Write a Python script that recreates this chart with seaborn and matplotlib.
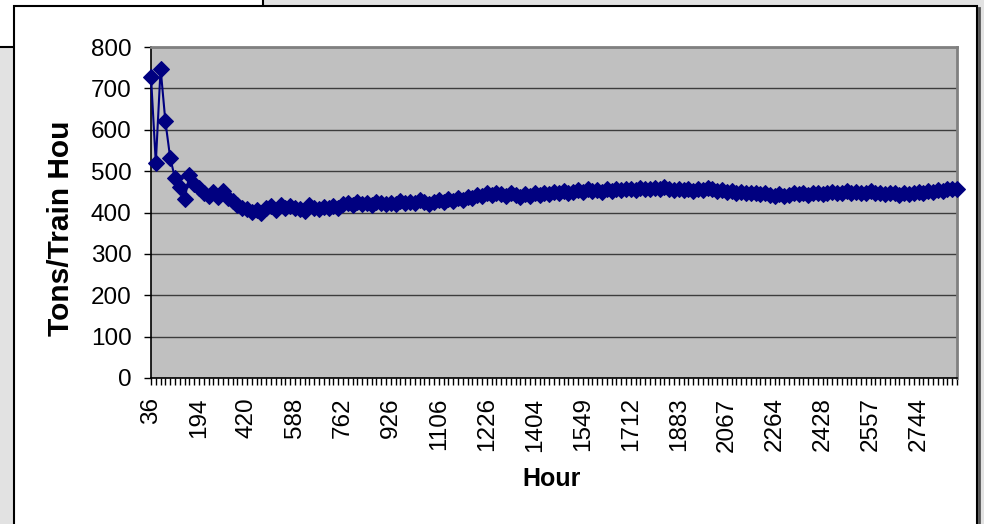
import matplotlib
matplotlib.use("Agg")
import matplotlib.pyplot as plt
from matplotlib.patches import Rectangle
from matplotlib.lines import Line2D
from matplotlib.transforms import Bbox
import numpy as np
import pandas as pd
import seaborn as sns

# tons per train hour, one value per sampled hour (category axis)
tons = [
    728, 520, 748, 620, 532, 483, 462, 432, 490, 468,
    460, 448, 440, 450, 438, 452, 436, 428, 418, 412,
    408, 402, 406, 400, 410, 415, 406, 418, 412, 416,
    410, 408, 404, 418, 412, 408, 414, 410, 416, 412,
    420, 424, 418, 426, 420, 424, 418, 426, 422, 420,
    424, 420, 428, 422, 426, 424, 430, 426, 420, 426,
    430, 426, 432, 428, 434, 430, 438, 434, 442, 440,
    446, 442, 448, 444, 440, 446, 442, 438, 444, 440,
    446, 442, 448, 444, 450, 446, 452, 448, 450, 454,
    450, 456, 452, 455, 450, 456, 452, 458, 454, 456,
    458, 454, 460, 456, 458, 460, 456, 462, 458, 454,
    458, 454, 456, 452, 458, 455, 460, 456, 452, 454,
    450, 452, 448, 450, 446, 448, 446, 444, 448, 442,
    440, 444, 440, 442, 446, 444, 448, 442, 446, 448,
    444, 446, 450, 446, 448, 452, 448, 450, 446, 448,
    452, 448, 446, 444, 448, 446, 442, 446, 444, 448,
    450, 448, 452, 450, 454, 452, 456, 458, 456,
]
# hour labels shown on every 10th category
hour_labels = ["36", "194", "420", "588", "762", "926", "1106", "1226", "1404",
               "1549", "1712", "1883", "2067", "2264", "2428", "2557", "2744"]

df = pd.DataFrame({"idx": np.arange(len(tons)), "tons": tons})

W, H = 984, 524
fig = plt.figure(figsize=(W / 100, H / 100), dpi=100, facecolor="#e2e2e2")

# window-ish frame behind the chart
fig.patches.append(Rectangle((0, 1 - 47 / H), 263 / W, 47 / H, transform=fig.transFigure,
                             facecolor="white", edgecolor="none", zorder=-3))
fig.lines.append(Line2D([0, 14 / W], [1 - 47 / H] * 2, transform=fig.transFigure,
                        color="black", lw=1.5, zorder=-2))
fig.lines.append(Line2D([263 / W] * 2, [1, 1 - 6 / H], transform=fig.transFigure,
                        color="black", lw=1.5, zorder=-2))
fig.patches.append(Rectangle((14 / W, -0.01), (977 - 14) / W, (524 - 6) / H + 0.01,
                             transform=fig.transFigure, facecolor="white",
                             edgecolor="black", lw=1.5, zorder=-1))
fig.lines.append(Line2D([979 / W] * 2, [0, 1 - 8 / H], transform=fig.transFigure,
                        color="#555555", lw=2, zorder=-1))

ax = fig.add_axes([151 / W, 1 - 378 / H, (957 - 151) / W, (378 - 47) / H])
ax.set_zorder(2)
ax.set_facecolor("#c0c0c0")

sns.lineplot(data=df, x="idx", y="tons", ax=ax, color="#000080", lw=1.5,
             marker="D", markersize=8, markeredgecolor="#000080", zorder=3, clip_on=False)

ax.set_xlim(0, len(tons) - 1)
ax.set_ylim(0, 800)
ax.set_yticks(range(0, 801, 100))
ax.yaxis.grid(True, color="#3c3c3c", lw=1)
ax.set_axisbelow(True)

ax.set_xticks(np.arange(0, 10 * len(hour_labels), 10))
ax.set_xticklabels(hour_labels, rotation=90, va="top")
ax.set_xticks(np.arange(len(tons)), minor=True)

for side in ["top", "right"]:
    ax.spines[side].set_color("#808080")
    ax.spines[side].set_linewidth(2)
for side in ["left", "bottom"]:
    ax.spines[side].set_color("black")
    ax.spines[side].set_linewidth(1.2)

font = "Liberation Sans"
ax.tick_params(axis="both", which="both", direction="out", length=5, width=1, color="black")
ax.tick_params(axis="y", labelsize=17.5, pad=9)
ax.tick_params(axis="x", labelsize=17.5, pad=9)
for lab in ax.get_xticklabels() + ax.get_yticklabels():
    lab.set_fontfamily(font)

ax.set_xlabel("")
ax.set_ylabel("")
fig.text(552 / W, 1 - 479 / H, "Hour", ha="center", va="center",
         fontsize=18, fontweight="bold", family=font)

# y label, cut off at the top like in the original
ylab = fig.text(61 / W, 1 - 222 / H, "Tons/Train Hour", rotation=90, ha="center", va="center",
                fontsize=21.5, fontweight="bold", family=font)
ylab.set_clip_box(Bbox.from_extents(0, 0, W, H - 120))
ylab.set_clip_on(True)

fig.savefig("out.png", dpi=100, facecolor=fig.get_facecolor())
